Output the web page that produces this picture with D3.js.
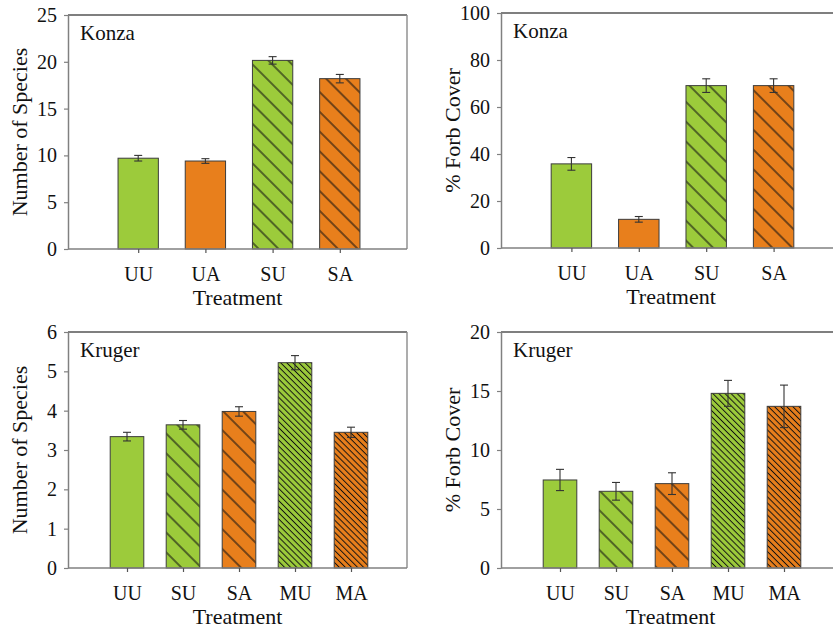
<!DOCTYPE html>
<html><head><meta charset="utf-8">
<script src="https://cdn.jsdelivr.net/npm/d3@7"></script>
<style>
body{margin:0;background:#fff;}
svg text{font-family:"Liberation Serif","DejaVu Serif","Times New Roman",Times,serif !important;fill:#111;}
</style></head>
<body><svg id="c" width="833" height="629"></svg>
<script>
// ---- data ----
const konzaCats = ["UU","UA","SU","SA"];
const konzaSpecies = [9.7, 9.4, 20.15, 18.2];
const konzaSpeciesErr = [0.3, 0.25, 0.4, 0.45];
const konzaForb = [35.8, 12.2, 69.1, 69.1];
const konzaForbErr = [2.7, 1.2, 2.9, 2.9];
const krugerCats = ["UU","SU","SA","MU","MA"];
const krugerSpecies = [3.34, 3.64, 3.98, 5.22, 3.45];
const krugerSpeciesErr = [0.11, 0.11, 0.12, 0.18, 0.13];
const krugerForb = [7.46, 6.5, 7.15, 14.8, 13.7];
const krugerForbErr = [0.9, 0.75, 0.92, 1.1, 1.8];
const speciesTicksKonza = [0,5,10,15,20,25];
const forbTicksKonza = [0,20,40,60,80,100];
const speciesTicksKruger = [0,1,2,3,4,5,6];
const forbTicksKruger = [0,5,10,15,20];

const GREEN = "#9ccb3b", ORANGE = "#e87f1c";
const FONT = "'Liberation Serif','DejaVu Serif','Times New Roman',Times,serif";
const style = {
  UU:{fill:GREEN, hatch:null}, UA:{fill:ORANGE, hatch:null},
  SU:{fill:GREEN, hatch:"wide"}, SA:{fill:ORANGE, hatch:"wide"},
  MU:{fill:GREEN, hatch:"dense"}, MA:{fill:ORANGE, hatch:"dense"}
};

const svg = d3.select("#c");
const defs = svg.append("defs");
function addPattern(id, spacing, sw){
  const p = defs.append("pattern").attr("id", id)
    .attr("patternUnits","userSpaceOnUse")
    .attr("width", spacing).attr("height", spacing)
    .attr("patternTransform","rotate(-45)");
  p.append("line").attr("x1",spacing/2).attr("x2",spacing/2).attr("y1",0).attr("y2",spacing)
    .attr("stroke","#111").attr("stroke-width",sw);
}
addPattern("hWide", 14, 1.1);
addPattern("hDense", 4.3, 1);

function panel(o){
  const g = svg.append("g");
  const n = o.cats.length;
  const x = d3.scaleLinear().domain([0, n+1]).range([o.L+3, o.R]);
  const y = d3.scaleLinear().domain([0, o.ticks[o.ticks.length-1]]).range([o.B, o.T]);
  const step = x(1)-x(0), bw = step*0.6;

  g.append("line").attr("x1",o.L).attr("x2",o.R).attr("y1",o.T).attr("y2",o.T)
    .attr("stroke","#555").attr("stroke-width",1.4);
  g.append("line").attr("x1",o.R).attr("x2",o.R).attr("y1",o.T).attr("y2",o.B)
    .attr("stroke","#8a8a8a").attr("stroke-width",1.4);

  o.cats.forEach((c,i)=>{
    const s = style[c];
    const x0 = x(i+1)-bw/2, y0 = y(o.vals[i]), h = y(0)-y(o.vals[i]);
    g.append("rect").attr("x",x0).attr("y",y0).attr("width",bw).attr("height",h)
      .attr("fill",s.fill).attr("stroke","none");
    if(s.hatch){
      g.append("rect").attr("x",x0).attr("y",y0).attr("width",bw).attr("height",h)
        .attr("fill", s.hatch==="wide" ? "url(#hWide)" : "url(#hDense)");
    }
    g.append("rect").attr("x",x0).attr("y",y0).attr("width",bw).attr("height",h)
      .attr("fill","none").attr("stroke","#3c3c3c").attr("stroke-width",1);
    const e = o.errs[i], cx = x(i+1);
    const yt = y(o.vals[i]+e), yb = y(o.vals[i]-e);
    g.append("line").attr("x1",cx).attr("x2",cx).attr("y1",yt).attr("y2",yb)
      .attr("stroke","#333").attr("stroke-width",1.1);
    [yt,yb].forEach(yy=>g.append("line").attr("x1",cx-4).attr("x2",cx+4).attr("y1",yy).attr("y2",yy)
      .attr("stroke","#333").attr("stroke-width",1.1));
  });

  const ya = g.append("g").attr("transform",`translate(${o.L},0)`)
    .call(d3.axisLeft(y).tickValues(o.ticks).tickSize(4).tickSizeOuter(0).tickPadding(7).tickFormat(d3.format("d")));
  ya.attr("font-family",FONT);
  ya.select(".domain").attr("stroke","#808080").attr("stroke-width",1.5);
  ya.selectAll(".tick line").attr("stroke","#808080").attr("stroke-width",1.2);
  ya.selectAll(".tick text").attr("font-size",20).attr("fill","#111").attr("font-family",FONT);

  const xa = g.append("g").attr("transform",`translate(0,${o.B})`)
    .call(d3.axisBottom(x).tickValues(d3.range(1,n+1)).tickSize(4).tickSizeOuter(0).tickPadding(14)
      .tickFormat(d=>o.cats[d-1]));
  xa.attr("font-family",FONT);
  xa.select(".domain").attr("d",`M${o.L},0H${o.R}`).attr("stroke","#808080").attr("stroke-width",1.5);
  xa.selectAll(".tick line").attr("stroke","#555").attr("stroke-width",1.2);
  xa.selectAll(".tick text").attr("font-size",20).attr("fill","#111").attr("font-family",FONT);

  g.append("text").attr("x",(o.L+o.R)/2).attr("y",o.B+56).attr("text-anchor","middle")
    .attr("font-family",FONT).attr("font-size",22).text("Treatment");
  g.append("text").attr("transform",`translate(${o.L-41},${(o.T+o.B)/2}) rotate(-90)`)
    .attr("font-family",FONT).attr("text-anchor","middle").attr("font-size",22).text(o.ylabel);
  g.append("text").attr("x",o.L+12).attr("y",o.T+25).attr("font-family",FONT).attr("font-size",21).text(o.site);
}

panel({cats:konzaCats, vals:konzaSpecies, errs:konzaSpeciesErr, ticks:speciesTicksKonza,
  L:68, R:407, T:15, B:249, ylabel:"Number of Species", site:"Konza"});
panel({cats:konzaCats, vals:konzaForb, errs:konzaForbErr, ticks:forbTicksKonza,
  L:501, R:841, T:13, B:248, ylabel:"% Forb Cover", site:"Konza"});
panel({cats:krugerCats, vals:krugerSpecies, errs:krugerSpeciesErr, ticks:speciesTicksKruger,
  L:68, R:407, T:332, B:568, ylabel:"Number of Species", site:"Kruger"});
panel({cats:krugerCats, vals:krugerForb, errs:krugerForbErr, ticks:forbTicksKruger,
  L:501, R:840, T:332, B:568, ylabel:"% Forb Cover", site:"Kruger"});
</script></body></html>
